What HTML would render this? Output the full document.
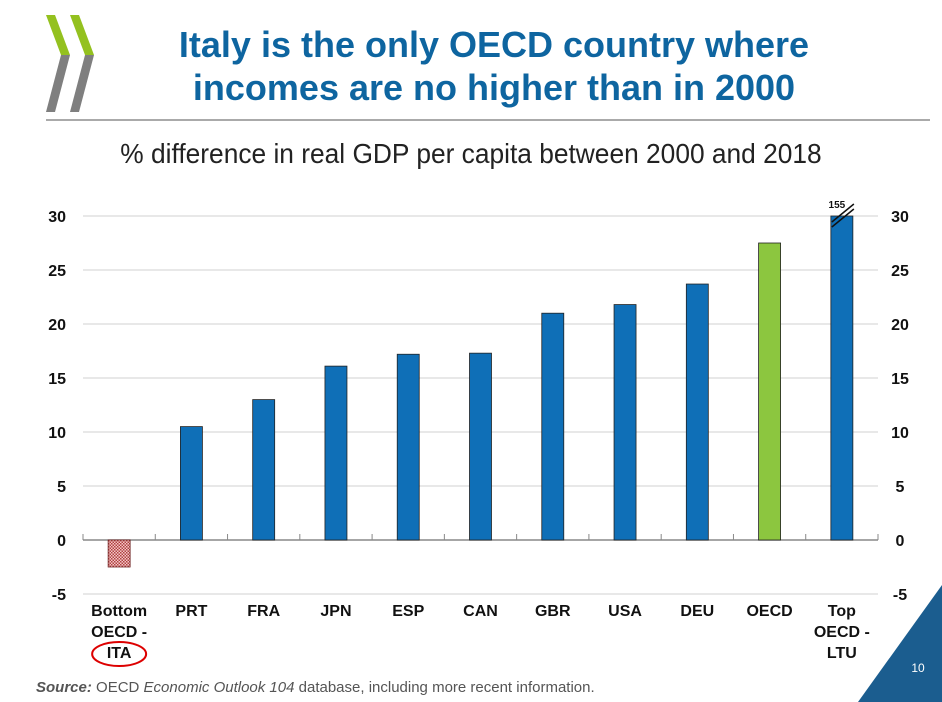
<!DOCTYPE html>
<html><head><meta charset="utf-8">
<style>
body{margin:0;width:942px;height:702px;background:#fff;overflow:hidden;position:relative;font-family:"Liberation Sans",sans-serif}
.title{position:absolute;left:94px;width:800px;top:23px;text-align:center;color:#0e65a0;font-weight:bold;font-size:36px;line-height:43px;white-space:nowrap}
.sub{position:absolute;left:0;width:942px;top:138px;text-align:center;font-size:28px;color:#222;transform:scaleX(0.94)}
.src{position:absolute;left:36px;top:679px;font-size:15px;color:#555}
</style></head><body>
<svg width="942" height="702" style="position:absolute;left:0;top:0">
 <g>
  <polygon points="46,15 55,15 70,55 61,55" fill="#94c11f"/>
  <polygon points="70,15 79,15 94,55 85,55" fill="#94c11f"/>
  <polygon points="61,55 70,55 55,112 46,112" fill="#7f7f7f"/>
  <polygon points="85,55 94,55 79,112 70,112" fill="#7f7f7f"/>
 </g>
 <line x1="46" y1="120" x2="930" y2="120" stroke="#aaa" stroke-width="2"/>
 <polygon points="942,585 942,702 858,702" fill="#1b5d8f"/>
 <text x="918" y="672" fill="#fff" font-size="12" text-anchor="middle" font-family="Liberation Sans">10</text>
 <g id="chart"></g>
</svg>
<div class="title">Italy is the only OECD country where<br>incomes are no higher than in 2000</div>
<div class="sub">% difference in real GDP per capita between 2000 and 2018</div>
<div class="src"><b><i>Source:</i></b> OECD <i>Economic Outlook 104</i> database, including more recent information.</div>
<script>
const categories=[["Bottom","OECD -","ITA"],["PRT"],["FRA"],["JPN"],["ESP"],["CAN"],["GBR"],["USA"],["DEU"],["OECD"],["Top","OECD -","LTU"]];
const values=[-2.5,10.5,13.0,16.1,17.2,17.3,21.0,21.8,23.7,27.5,155];
const ticks=[-5,0,5,10,15,20,25,30];
const yMin=-5,yMax=30;
const NS="http://www.w3.org/2000/svg";
const g=document.getElementById('chart');
const plotLeft=83,plotRight=878,plotTop=216,plotBot=594;
const y=v=>plotBot-(Math.min(Math.max(v,yMin),yMax)-yMin)/(yMax-yMin)*(plotBot-plotTop);
const step=(plotRight-plotLeft)/categories.length;
const cx=i=>plotLeft+step*(i+0.5);
function mk(t,a){const e=document.createElementNS(NS,t);for(const k in a)e.setAttribute(k,a[k]);g.appendChild(e);return e;}
const defs=mk('defs',{});
defs.innerHTML='<pattern id="hatch" width="3" height="3" patternUnits="userSpaceOnUse"><rect width="3" height="3" fill="#f4c7c7"/><rect width="1.5" height="1.5" fill="#b04040"/><rect x="1.5" y="1.5" width="1.5" height="1.5" fill="#b04040"/></pattern>';
ticks.forEach(t=>{
 if(t!==0){const l=mk('line',{x1:plotLeft,x2:plotRight,y1:y(t),y2:y(t),stroke:'#d0d0d0','stroke-width':1});
 }
 const a=mk('text',{x:66,y:y(t)+6,'font-size':16,'font-weight':'bold','text-anchor':'end',fill:'#111','font-family':'Liberation Sans'});a.textContent=t;
 
 const b=mk('text',{x:900,y:y(t)+6,'font-size':16,'font-weight':'bold','text-anchor':'middle',fill:'#111','font-family':'Liberation Sans'});b.textContent=t;
 
});
const z=mk('line',{x1:plotLeft,x2:plotRight,y1:y(0),y2:y(0),stroke:'#888','stroke-width':1.5});

for(let i=0;i<=categories.length;i++){const tk=mk('line',{x1:plotLeft+step*i,x2:plotLeft+step*i,y1:y(0)-6,y2:y(0),stroke:'#888'});
 }
values.forEach((v,i)=>{
 const bw=22,yt=Math.min(y(v),y(0)),h=Math.abs(y(v)-y(0));
 const fill=i===0?'url(#hatch)':(i===9?'#8cc63f':'#0f6fb7');
 const r=mk('rect',{x:cx(i)-bw/2,y:yt,width:bw,height:h,fill:fill,stroke:i===0?'#6b1f1f':'#222','stroke-width':0.8});
 
 
 const lines=categories[i];
 lines.forEach((s,k)=>{const t=mk('text',{x:cx(i),y:616+k*21,'font-size':16,'font-weight':'bold','text-anchor':'middle',fill:'#111','font-family':'Liberation Sans'});t.textContent=s;
  });
 if(v>yMax){
  const lb=mk('text',{x:cx(i)-5,y:y(yMax)-8,'font-size':10,'font-weight':'bold','text-anchor':'middle',fill:'#111','font-family':'Liberation Sans'});lb.textContent=v;
  
  for(const d of [0,5]){const bl=mk('line',{x1:cx(i)-10,y1:y(yMax)+10+d-4,x2:cx(i)+12,y2:y(yMax)-8+d-4,stroke:'#111','stroke-width':1.5});
   }
 }
});
const el=mk('ellipse',{cx:cx(0),cy:654,rx:27,ry:12,fill:'none',stroke:'#d00','stroke-width':2});

</script>
</body></html>
